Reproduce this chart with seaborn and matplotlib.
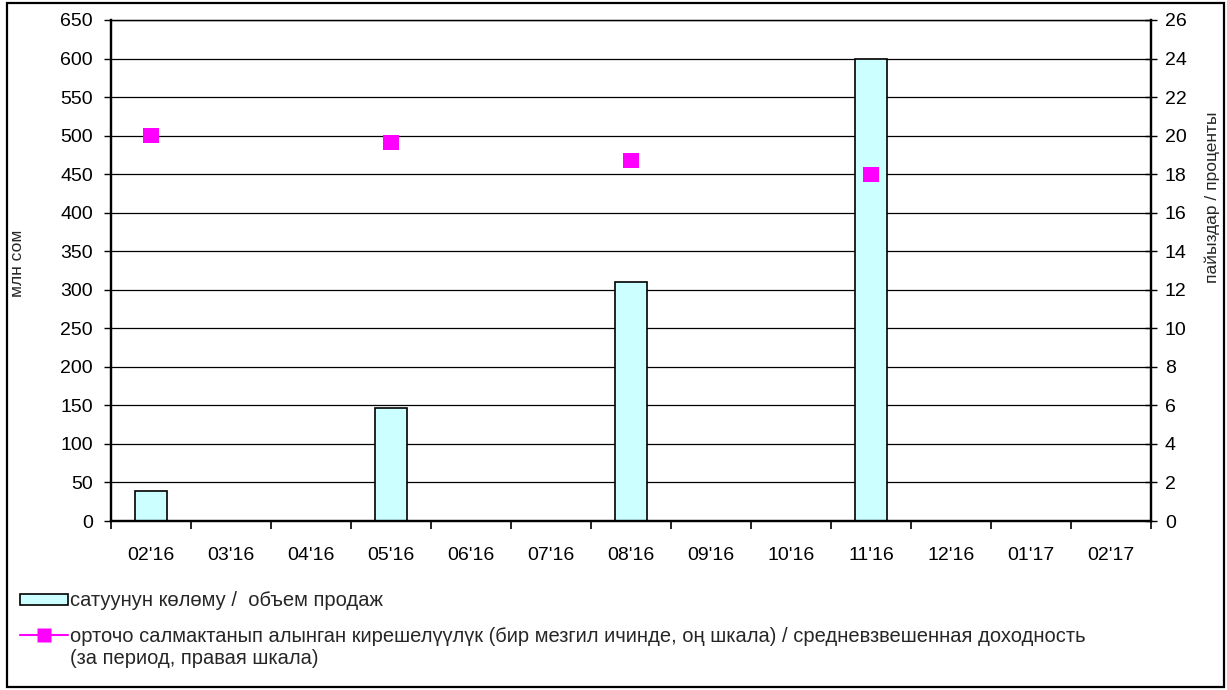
import matplotlib
matplotlib.use("Agg")
import matplotlib.pyplot as plt
import seaborn as sns
import pandas as pd
from matplotlib.lines import Line2D
from matplotlib.patches import Patch, Rectangle
from matplotlib.ticker import MultipleLocator, FixedLocator

# === datos ===
meses = ["02'16", "03'16", "04'16", "05'16", "06'16", "07'16", "08'16",
         "09'16", "10'16", "11'16", "12'16", "01'17", "02'17"]
meses_venta = ["02'16", "05'16", "08'16", "11'16"]
volumen = [39, 146, 310, 600]          # млн сом
rendimiento = [20.0, 19.66, 18.7, 18.0]  # проценты

lbl_barras = "сатуунун көлөму /  объем продаж"
lbl_linea_1 = "орточо салмактанып алынган кирешелүүлүк (бир мезгил ичинде, оң шкала) / средневзвешенная доходность"
lbl_linea_2 = "(за период, правая шкала)"

sns.set_theme(style="white")
plt.rcParams['font.family'] = ['Liberation Sans', 'DejaVu Sans']

df = pd.DataFrame({"mes": meses_venta, "volumen": volumen, "rend": rendimiento})
df["pos"] = [meses.index(m) for m in meses_venta]

fig = plt.figure(figsize=(12.27, 6.9), dpi=100)
ax = fig.add_axes([111 / 1227, 1 - 521 / 690, 1040 / 1227, 501 / 690])

sns.barplot(data=df, x="mes", y="volumen", order=meses, ax=ax,
            color="#CCFFFF", edgecolor="black", linewidth=1.2, width=0.39,
            saturation=1)
ax.set_xlim(-0.5, len(meses) - 0.5)
ax.set_ylim(0, 650)
ax.yaxis.set_major_locator(MultipleLocator(50))
ax.grid(axis="y", color="black", linewidth=0.9)
ax.set_axisbelow(True)
ax.set_xlabel("")
ax.set_ylabel("")

ax2 = ax.twinx()
sns.scatterplot(data=df, x="pos", y="rend", ax=ax2, marker="s", s=120,
                color="#FF00FF", edgecolor="none", zorder=5)
ax2.set_ylim(0, 26)
ax2.yaxis.set_major_locator(MultipleLocator(2))
ax2.set_xlim(-0.5, len(meses) - 0.5)
ax2.set_xlabel("")
ax2.set_ylabel("")

for a in (ax, ax2):
    for s in a.spines.values():
        s.set_color("black")
        s.set_linewidth(1.6)
    a.spines["top"].set_linewidth(0.9)

ax.tick_params(axis="y", direction="out", length=5, width=1, pad=8,
               labelsize=14, colors="black", left=True)
ax2.tick_params(axis="y", direction="inout", length=8, width=1, pad=6,
                labelsize=14, colors="black", right=True)
ax.xaxis.set_minor_locator(FixedLocator([i - 0.5 for i in range(len(meses) + 1)]))
ax.tick_params(axis="x", which="major", length=0, pad=19, labelsize=14, colors="black")
ax.tick_params(axis="x", which="minor", direction="out", length=6, width=1.2,
               bottom=True, color="black")

fig.text(18 / 1227, 1 - 263 / 690, "млн сом", rotation=90, ha="center", va="center",
         fontsize=12.5)
fig.text(1212 / 1227, 1 - 197 / 690, "пайыздар / проценты", rotation=90,
         ha="center", va="center", fontsize=12.5)

# leyenda
h1 = Patch(facecolor="#CCFFFF", edgecolor="black", linewidth=1.2)
fig.legend([h1], [lbl_barras], loc="center left", bbox_to_anchor=(20 / 1227, 1 - 601 / 690),
           frameon=False, fontsize=14.5, handlelength=2.4, handleheight=0.5,
           handletextpad=0.1, borderpad=0, borderaxespad=0)
h2 = Line2D([], [], color="#FF00FF", linewidth=1.5, marker="s", markersize=10,
            markeredgecolor="none")
fig.legend([h2], [lbl_linea_1], loc="center left", bbox_to_anchor=(20 / 1227, 1 - 637 / 690),
           frameon=False, fontsize=14.5, handlelength=2.4,
           handletextpad=0.1, borderpad=0, borderaxespad=0)
fig.text(70 / 1227, 1 - 659 / 690, lbl_linea_2, ha="left", va="center", fontsize=14.5)

fig.add_artist(Rectangle((7 / 1227, 3 / 690), 1217 / 1227, 684 / 690,
                         transform=fig.transFigure, fill=False,
                         edgecolor="black", linewidth=1.6))

fig.savefig("out.png", dpi=100)
